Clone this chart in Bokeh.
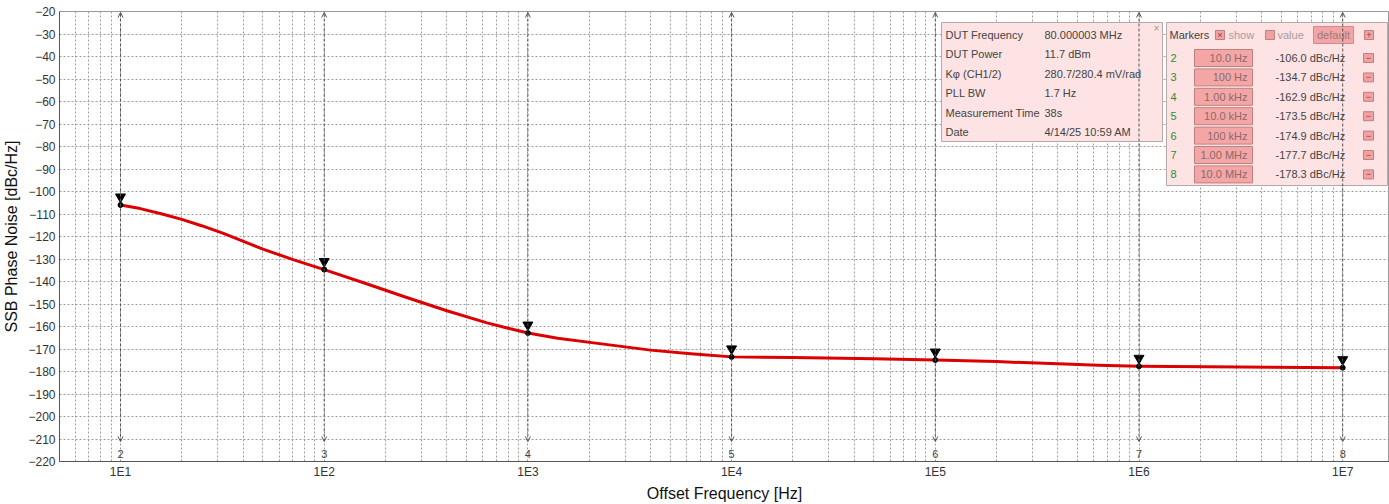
import numpy as np
from bokeh.plotting import figure
from bokeh.models import ColumnDataSource, FixedTicker, Range1d, Arrow, OpenHead
from bokeh.core.properties import value
from bokeh.embed import file_html
from bokeh.resources import INLINE

# ---------------- data ----------------
freq = [10, 12.5, 16, 20, 25, 32, 50, 71, 100, 160, 250, 400, 630, 800, 1000,
        1400, 2200, 4000, 6300, 10000, 20000, 50000, 100000, 200000, 400000,
        630000, 1000000, 3200000, 10000000]
noise = [-106.0, -107.6, -110.0, -112.4, -115.2, -118.6, -125.6, -130.4, -134.7,
         -140.9, -146.9, -153.0, -158.4, -160.8, -162.9, -165.2, -167.5, -170.5,
         -172.1, -173.5, -173.8, -174.3, -174.9, -175.6, -176.6, -177.2, -177.7,
         -178.0, -178.3]

marker_ids = ["2", "3", "4", "5", "6", "7", "8"]
marker_freq = [10, 100, 1000, 10000, 100000, 1000000, 10000000]
marker_noise = [-106.0, -134.7, -162.9, -173.5, -174.9, -177.7, -178.3]
marker_freq_labels = ["10.0 Hz", "100 Hz", "1.00 kHz", "10.0 kHz", "100 kHz", "1.00 MHz", "10.0 MHz"]

x_tick_values = [10, 100, 1000, 10000, 100000, 1000000, 10000000]
x_tick_labels = ["1E1", "1E2", "1E3", "1E4", "1E5", "1E6", "1E7"]
y_ticks = list(range(-220, -19, 10))

info_labels = ["DUT Frequency", "DUT Power", "K\u03c6 (CH1/2)", "PLL BW", "Measurement Time", "Date"]
info_values = ["80.000003 MHz", "11.7 dBm", "280.7/280.4 mV/rad", "1.7 Hz", "38s", "4/14/25 10:59 AM"]

# ---------------- layout ----------------
W, H = 1389, 504
FL, FT, FB, FR = 59, 11, 461, 1389
XMIN, XMAX = 5.018, 1.697e7
YMIN, YMAX = -220, -20
FONT = "Liberation Sans"


def fx(px):
    lo, hi = np.log10(XMIN), np.log10(XMAX)
    return float(10 ** (lo + (px - FL) / (FR - FL) * (hi - lo)))


def fy(py):
    return float(YMAX - (py - FT) / (FB - FT) * (YMAX - YMIN))


p = figure(width=W, height=H, x_axis_type="log",
           x_range=Range1d(XMIN, XMAX), y_range=Range1d(YMIN, YMAX),
           output_backend="svg", toolbar_location=None,
           min_border_left=FL, min_border_top=FT, min_border_bottom=H - FB,
           min_border_right=0)
p.background_fill_color = "white"
p.border_fill_color = "white"
p.outline_line_color = "#9a9a9a"

minor = [m * 10 ** k for k in range(0, 8) for m in range(2, 10) if XMIN <= m * 10 ** k <= XMAX]
p.xaxis.ticker = FixedTicker(ticks=x_tick_values, minor_ticks=minor)
p.xaxis.major_label_overrides = {float(v): s for v, s in zip(x_tick_values, x_tick_labels)}
p.yaxis.ticker = FixedTicker(ticks=y_ticks)

for ax in (p.xaxis[0], p.yaxis[0]):
    ax.axis_line_color = "#555555"
    ax.major_tick_line_color = None
    ax.minor_tick_line_color = None
    ax.major_tick_out = 0
    ax.major_tick_in = 0
    ax.minor_tick_out = 0
    ax.minor_tick_in = 0
    ax.major_label_text_font = FONT
    ax.major_label_text_font_size = "12px"
    ax.major_label_text_color = "#333333"
    ax.axis_label_text_font = FONT
    ax.axis_label_text_font_size = "16px"
    ax.axis_label_text_font_style = "normal"
    ax.axis_label_text_color = "#111111"

p.xaxis.axis_label = "Offset Frequency [Hz]"
p.yaxis.axis_label = "SSB Phase Noise [dBc/Hz]"
p.xaxis.major_label_standoff = 3
p.xaxis.axis_label_standoff = 3
p.yaxis.major_label_standoff = 4
p.yaxis.axis_label_standoff = 5

p.xgrid.grid_line_color = "#9c9c9c"
p.xgrid.grid_line_dash = "2 2"
p.xgrid.minor_grid_line_color = "#9c9c9c"
p.xgrid.minor_grid_line_dash = "2 2"
p.ygrid.grid_line_color = "#9c9c9c"
p.ygrid.grid_line_dash = "2 2"

# marker lines with open arrow heads
msrc = ColumnDataSource(dict(x=marker_freq, y0=[fy(441)] * len(marker_freq), y1=[fy(12)] * len(marker_freq)))
arrow = Arrow(source=msrc, x_start="x", y_start="y0", x_end="x", y_end="y1",
              line_color="#555555", line_dash="3 2", line_width=1,
              start=OpenHead(size=5, line_color="#555555", line_width=1),
              end=OpenHead(size=5, line_color="#555555", line_width=1))
p.add_layout(arrow)
p.text(x=marker_freq, y=[fy(453)] * len(marker_freq), text=marker_ids,
       text_font=value(FONT), text_font_size="11px", text_color="#444444",
       text_align="center", text_baseline="middle")

# trace
p.line(freq, noise, line_color="#dd0000", line_width=3, line_join="round")
p.scatter(marker_freq, marker_noise, size=5, color="black")
p.scatter(marker_freq, [v + 3.6 for v in marker_noise], marker="inverted_triangle",
          size=10, color="black")

# ---------------- info panel ----------------
TS = "11px"
p.quad(left=fx(941), right=fx(1162), top=fy(22), bottom=fy(141),
       fill_color="#fde3e3", line_color="#b8a8a8")
rows1 = [fy(34 + 19.5 * i) for i in range(len(info_labels))]
p.text(x=[fx(945)] * len(info_labels), y=rows1, text=info_labels,
       text_font=value(FONT), text_font_size=TS, text_color="#444444",
       text_align="left", text_baseline="middle")
p.text(x=[fx(1044)] * len(info_values), y=rows1, text=info_values,
       text_font=value(FONT), text_font_size=TS, text_color="#444444",
       text_align="left", text_baseline="middle")
p.text(x=[fx(1156), fx(1382)], y=[fy(28), fy(28)], text=["\u00d7", "\u00d7"],
       text_font=value(FONT), text_font_size="10px", text_color="#999999",
       text_align="center", text_baseline="middle")

# ---------------- markers panel ----------------
p.quad(left=fx(1166), right=fx(1387), top=fy(22), bottom=fy(185),
       fill_color="#fde3e3", line_color="#b8a8a8")
p.text(x=[fx(1169)], y=[fy(34)], text=["Markers"],
       text_font=value(FONT), text_font_size=TS, text_color="#444444",
       text_align="left", text_baseline="middle")
p.quad(left=[fx(1215), fx(1265), fx(1364)], right=[fx(1224), fx(1274), fx(1373)],
       top=[fy(30)] * 3, bottom=[fy(39)] * 3, fill_color="#f2a0a0", line_color="#c08080")
p.quad(left=[fx(1313)], right=[fx(1353)], top=[fy(26)], bottom=[fy(43)],
       fill_color="#f4a4a4", line_color="#c89090")
p.text(x=[fx(1219.5), fx(1368.5)], y=[fy(34.5)] * 2, text=["\u00d7", "+"],
       text_font=value(FONT), text_font_size="9px", text_color="#7a4a4a",
       text_align="center", text_baseline="middle")
p.text(x=[fx(1228), fx(1277)], y=[fy(34)] * 2, text=["show", "value"],
       text_font=value(FONT), text_font_size=TS, text_color="#a89a9a",
       text_align="left", text_baseline="middle")
p.text(x=[fx(1333)], y=[fy(34.5)], text=["default"],
       text_font=value(FONT), text_font_size=TS, text_color="#9a7a7a",
       text_align="center", text_baseline="middle")

rows2 = [57.5 + 19.4 * i for i in range(len(marker_ids))]
p.text(x=[fx(1170)] * len(marker_ids), y=[fy(r) for r in rows2], text=marker_ids,
       text_font=value(FONT), text_font_size=TS, text_color="#2e8b2e",
       text_align="left", text_baseline="middle")
p.quad(left=[fx(1194)] * len(rows2), right=[fx(1252)] * len(rows2),
       top=[fy(r - 8.5) for r in rows2], bottom=[fy(r + 8.5) for r in rows2],
       fill_color="#f4a6a6", line_color="#c08080")
p.text(x=[fx(1247)] * len(rows2), y=[fy(r) for r in rows2], text=marker_freq_labels,
       text_font=value(FONT), text_font_size=TS, text_color="#8a6a6a",
       text_align="right", text_baseline="middle")
p.text(x=[fx(1275)] * len(rows2), y=[fy(r) for r in rows2],
       text=[f"{v:.1f} dBc/Hz" for v in marker_noise],
       text_font=value(FONT), text_font_size=TS, text_color="#444444",
       text_align="left", text_baseline="middle")
p.quad(left=[fx(1363)] * len(rows2), right=[fx(1373)] * len(rows2),
       top=[fy(r - 4.5) for r in rows2], bottom=[fy(r + 4.5) for r in rows2],
       fill_color="#f2a0a0", line_color="#c08080")
p.text(x=[fx(1368)] * len(rows2), y=[fy(r) for r in rows2], text=["\u2212"] * len(rows2),
       text_font=value(FONT), text_font_size="9px", text_color="#7a4a4a",
       text_align="center", text_baseline="middle")

open("out.html", "w").write(file_html(p, INLINE))
